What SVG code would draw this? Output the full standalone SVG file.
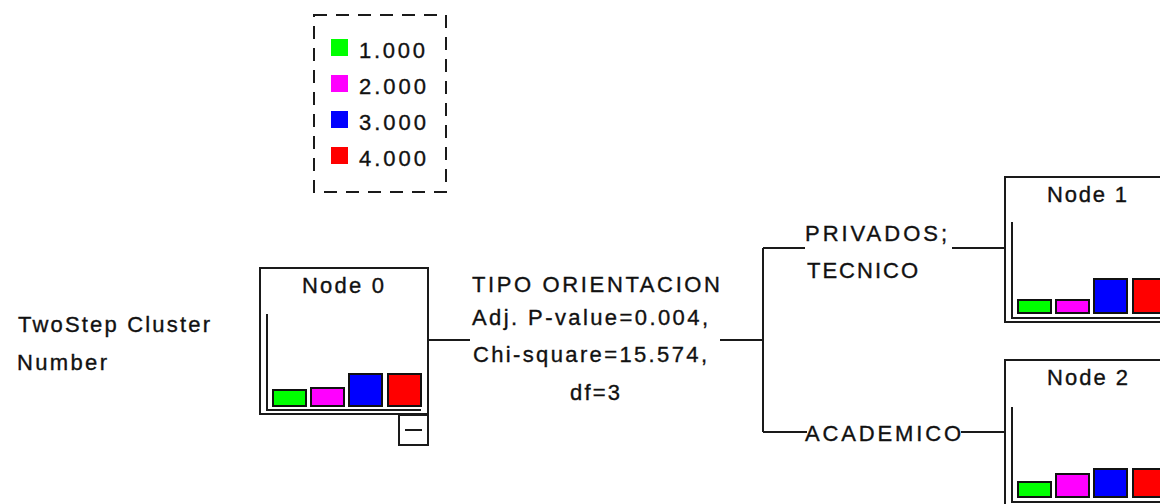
<svg xmlns="http://www.w3.org/2000/svg" width="1160" height="504" viewBox="0 0 1160 504">
<style>
.t{font-family:"Liberation Sans",Arial,sans-serif;font-size:22px;fill:#111;stroke:#111;stroke-width:0.35}
.box{fill:#fff;stroke:#1a1a1a;stroke-width:2}
.ax{fill:none;stroke:#1a1a1a;stroke-width:2}
.bar{stroke:#111;stroke-width:2}
.g{fill:#00ff00}.m{fill:#ff00ff}.b{fill:#0000ff}.r{fill:#ff0000}
.ln{fill:none;stroke:#1a1a1a;stroke-width:2}
</style>
<rect width="1160" height="504" fill="#fff"/>
<g id="legend">
<rect x="314" y="15" width="132" height="177" fill="none" stroke="#1a1a1a" stroke-width="2" stroke-dasharray="13 9"/>
<rect x="331" y="39" width="17" height="17" class="g"/>
<rect x="331" y="75" width="17" height="17" class="m"/>
<rect x="331" y="111" width="17" height="17" class="b"/>
<rect x="331" y="147" width="17" height="17" class="r"/>
<text class="t" x="359" y="58" textLength="66" lengthAdjust="spacing">1.000</text>
<text class="t" x="359" y="94" textLength="67" lengthAdjust="spacing">2.000</text>
<text class="t" x="359" y="130" textLength="67" lengthAdjust="spacing">3.000</text>
<text class="t" x="359" y="166" textLength="67" lengthAdjust="spacing">4.000</text>
</g>
<g id="target-label">
<text class="t" x="18" y="332" textLength="192" lengthAdjust="spacing">TwoStep Cluster</text>
<text class="t" x="17" y="370" textLength="90" lengthAdjust="spacing">Number</text>
</g>
<g id="connectors">
<path class="ln" d="M429,340 H470 M720,340 H763 M763,248 V432 M763,248 H805 M952,248 H1004 M763,432 H807 M961,432 H1004"/>
</g>
<g id="split-label">
<text class="t" x="472" y="292" textLength="248" lengthAdjust="spacing">TIPO ORIENTACION</text>
<text class="t" x="472" y="325" textLength="236" lengthAdjust="spacing">Adj. P-value=0.004,</text>
<text class="t" x="473" y="362" textLength="234" lengthAdjust="spacing">Chi-square=15.574,</text>
<text class="t" x="570" y="400" textLength="50" lengthAdjust="spacing">df=3</text>
</g>
<g id="branch-labels">
<text class="t" x="805" y="241" textLength="142" lengthAdjust="spacing">PRIVADOS;</text>
<text class="t" x="807" y="278" textLength="111" lengthAdjust="spacing">TECNICO</text>
<text class="t" x="805" y="441" textLength="156" lengthAdjust="spacing">ACADEMICO</text>
</g>
<g id="node0">
<rect class="box" x="260" y="268" width="168" height="146"/>
<text class="t" x="302" y="293" textLength="82" lengthAdjust="spacing">Node 0</text>
<path class="ax" d="M267,314 V410 H421"/>
<rect class="bar g" x="273" y="390" width="33" height="16"/>
<rect class="bar m" x="311" y="388" width="33" height="18"/>
<rect class="bar b" x="349" y="374" width="33" height="32"/>
<rect class="bar r" x="388" y="374" width="33" height="32"/>
<rect class="box" x="399" y="415" width="29" height="30"/>
<path class="ln" d="M405,430 H422"/>
</g>
<g id="node1">
<rect class="box" x="1005" y="177" width="168" height="145"/>
<text class="t" x="1047" y="202" textLength="80" lengthAdjust="spacing">Node 1</text>
<path class="ax" d="M1012,222 V318 H1170"/>
<rect class="bar g" x="1018" y="300" width="33" height="13"/>
<rect class="bar m" x="1056" y="300" width="33" height="13"/>
<rect class="bar b" x="1094" y="279" width="33" height="34"/>
<rect class="bar r" x="1133" y="279" width="33" height="34"/>
</g>
<g id="node2">
<rect class="box" x="1005" y="360" width="168" height="146"/>
<text class="t" x="1047" y="385" textLength="81" lengthAdjust="spacing">Node 2</text>
<path class="ax" d="M1012,407 V502 H1170"/>
<rect class="bar g" x="1018" y="482" width="33" height="15"/>
<rect class="bar m" x="1056" y="474" width="33" height="23"/>
<rect class="bar b" x="1094" y="469" width="33" height="28"/>
<rect class="bar r" x="1133" y="469" width="33" height="28"/>
</g>
</svg>
